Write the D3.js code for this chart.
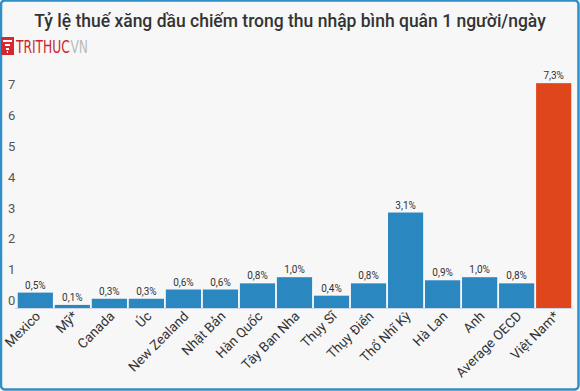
<!DOCTYPE html>
<html>
<head>
<meta charset="utf-8">
<script src="https://cdn.jsdelivr.net/npm/d3@7"></script>
<style>
  html, body { margin: 0; padding: 0; background: #fff; }
  svg { display: block; font-family: Roboto, "Noto Sans", sans-serif; }
</style>
</head>
<body>
<svg width="580" height="391"></svg>
<script>
const width = 580;
const height = 391;

// Data
const countries = ["Mexico", "Mỹ*", "Canada", "Úc", "New Zealand", "Nhật Bản", "Hàn Quốc",
  "Tây Ban Nha", "Thụy Sĩ", "Thụy Điển", "Thổ Nhĩ Kỳ", "Hà Lan", "Anh", "Average OECD", "Việt Nam*"];
const shares = [0.5, 0.1, 0.3, 0.3, 0.6, 0.6, 0.8, 1.0, 0.4, 0.8, 3.1, 0.9, 1.0, 0.8, 7.3];
const yTicks = [0, 1, 2, 3, 4, 5, 6, 7];
const highlight = "Việt Nam*";

const svg = d3.select("svg");

// Frame
svg.append("rect")
  .attr("x", 1).attr("y", 0.5)
  .attr("width", width - 2.5).attr("height", height - 2)
  .attr("rx", 4)
  .attr("fill", "#f7f7f7")
  .attr("stroke", "#2f8fc6")
  .attr("stroke-width", 2.5);

// Title
svg.append("text")
  .attr("x", 290).attr("y", 27)
  .attr("text-anchor", "middle")
  .attr("font-size", 17.5)
  .attr("font-weight", 500)
  .attr("fill", "#333")
  .text("Tỷ lệ thuế xăng dầu chiếm trong thu nhập bình quân 1 người/ngày");

// Logo
const logo = svg.append("g");
logo.append("rect").attr("x", 1).attr("y", 37).attr("width", 13).attr("height", 18).attr("fill", "#d7282f");
logo.append("path")
  .attr("d", "M3,40 H12 V42 H3 Z M5,44 H10 V46 H5 Z M6,48 H9 V50 H6 Z M7,51 H8 V53 H7 Z")
  .attr("fill", "#fff");
// narrow the wordmark horizontally
const brandG = logo.append("g").attr("transform", "translate(16,53) scale(0.8,1)");
const brand = brandG.append("text")
  .attr("font-family", "'Liberation Sans Narrow', 'DejaVu Sans Condensed', sans-serif")
  .attr("font-size", 17)
  .attr("fill", "#c8262e")
  .text("TRITHUC");
const brandW = brand.node().getComputedTextLength();
brandG.append("text")
  .attr("x", brandW + 1)
  .attr("font-family", "'Liberation Sans Narrow', 'DejaVu Sans Condensed', sans-serif")
  .attr("font-size", 17)
  .attr("font-weight", 300)
  .attr("fill", "#bbb")
  .text("VN");

// Scales
const x = d3.scaleBand().domain(countries).range([17, 572]).paddingInner(0.05).paddingOuter(0.02);
const y = d3.scaleLinear().domain([0, 8]).range([308, 61.6]);

// Y labels
svg.append("g")
  .selectAll("text")
  .data(yTicks)
  .join("text")
  .attr("x", 8)
  .attr("y", (d) => y(d) - 3)
  .attr("font-size", 13)
  .attr("fill", "#555")
  .text((d) => d);

// Baseline
svg.append("line")
  .attr("x1", 15).attr("x2", 573)
  .attr("y1", y(0) + 0.5).attr("y2", y(0) + 0.5)
  .attr("stroke", "#ccd6eb");

// Bars
svg.append("g")
  .selectAll("rect")
  .data(countries)
  .join("rect")
  .attr("x", (d) => x(d))
  .attr("y", (d, i) => y(shares[i]))
  .attr("width", x.bandwidth())
  .attr("height", (d, i) => y(0) - y(shares[i]))
  .attr("fill", (d) => (d === highlight ? "#e0461c" : "#2b87c0"));

// Value labels
svg.append("g")
  .selectAll("text")
  .data(countries)
  .join("text")
  .attr("x", (d) => x(d) + x.bandwidth() / 2)
  .attr("y", (d, i) => y(shares[i]) - 4)
  .attr("text-anchor", "middle")
  .attr("font-size", 10)
  .attr("fill", "#333")
  .text((d, i) => d3.format(".1f")(shares[i]).replace(".", ",") + "%");

// Category labels
svg.append("g")
  .selectAll("text")
  .data(countries)
  .join("text")
  .attr("transform", (d) => `translate(${x(d) + x.bandwidth() / 2 + 6},${y(0) + 9}) rotate(-45)`)
  .attr("text-anchor", "end")
  .attr("font-size", 13.5)
  .attr("fill", "#333")
  .text((d) => d);
</script>
</body>
</html>
